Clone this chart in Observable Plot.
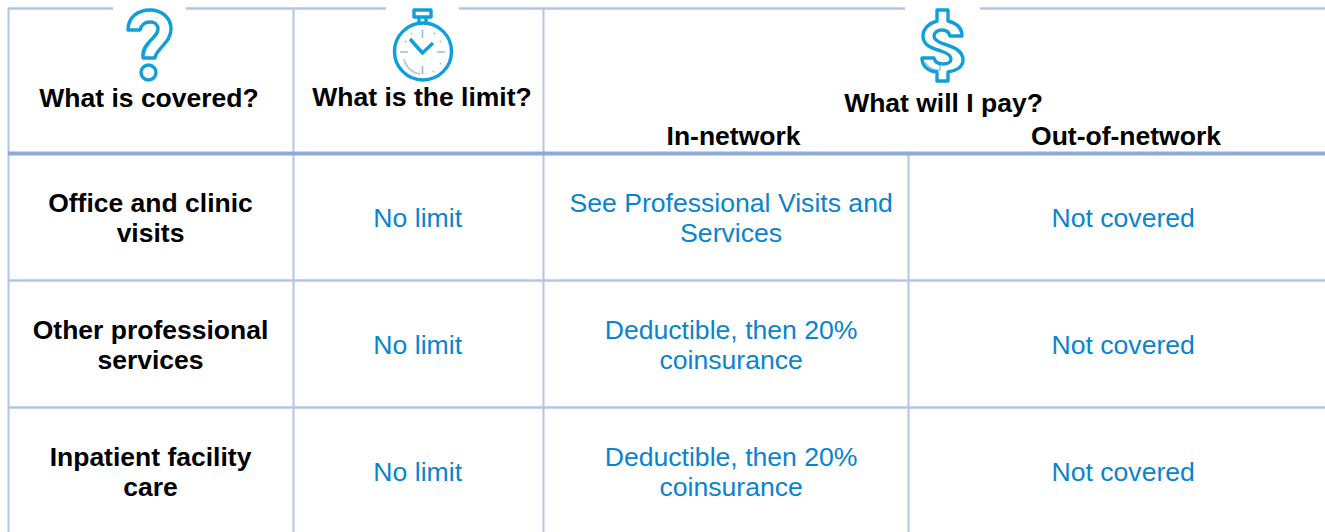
<!DOCTYPE html>
<html><head><meta charset="utf-8">
<script src="https://cdn.jsdelivr.net/npm/d3@7"></script>
<script src="https://cdn.jsdelivr.net/npm/@observablehq/plot@0.6"></script>
<style>html,body{margin:0;padding:0;background:#fff;overflow:hidden}svg{display:block}</style>
</head><body><div id="chart"></div>
<script>
const rowLabels = ["Office and clinic\nvisits", "Other professional\nservices", "Inpatient facility\ncare"];
const limits = ["No limit", "No limit", "No limit"];
const inNetwork = ["See Professional Visits and\nServices", "Deductible, then 20%\ncoinsurance", "Deductible, then 20%\ncoinsurance"];
const outNetwork = ["Not covered", "Not covered", "Not covered"];
const rowCenters = [216.5, 343.5, 470.5];
const colCenters = [150, 417.2, 730.6, 1122.7];
const headers = [
  {t: "What is covered?", x: 148.5, y: 98},
  {t: "What is the limit?", x: 421.5, y: 97},
  {t: "What will I pay?", x: 943, y: 103},
  {t: "In-network", x: 733, y: 136},
  {t: "Out-of-network", x: 1125.5, y: 136}
];
const vLines = [
  {x: 8, y1: 8, y2: 532}, {x: 293, y1: 8, y2: 532}, {x: 543, y1: 8, y2: 532}, {x: 908, y1: 153, y2: 532}
];
const hLines = [
  {y: 8, x1: 8, x2: 113}, {y: 8, x1: 186, x2: 386}, {y: 8, x1: 459, x2: 905}, {y: 8, x1: 980, x2: 1325},
  {y: 280, x1: 8, x2: 1325}, {y: 407, x1: 8, x2: 1325}
];
const ruleColor = "#b4c6e7", headRule = "#8eaadb", blue = "#0a84ce", iconBlue = "#0fa0dc", accent = "#b7cfe0";

const iconOutline = [
  "M128,30C128,17 138,10 150,10C162,10 171,18 171,29C171,38 165,43 160,49C157,53 155,55 155,58L143,58C142,50 146,45 151,40C155,36 158,33 158,29C158,25 155,22 150,22C145,22 141,25 140,30Z",
  "M937,10L948,10L948,21C956,23 962,28 962,36L950,36C949,32 946,30 942,30C937,30 934,33 934,36C934,40 938,42 944,44C954,47 963,51 963,60C963,67 956,71 948,72L948,81L937,81L937,72C928,71 922,66 922,58L934,58C935,62 938,64 943,64C948,64 951,62 951,59C951,55 947,53 941,51C931,48 923,45 923,36C923,28 930,23 937,21Z",
  "M414,10L431,10L431,17L414,17Z",
  "M419,17L419,22M426,17L426,22",
  "M410,39L422.5,53L433,43"
];
const iconThin = [
  "M422.5,30L422.5,38M422.5,74L422.5,66M400,52L408,52M437,52L445,52"
];
const iconAccent = [
  "M404,59C406,68 413,73 420,74",
  "M150,44C147,47 145,50 145,55",
  "M925,62C927,66 931,69 936,70L940,70L940,65"
];
const iconDots = [[148, 72, 7.5], [422.5, 51, 28.5]];
const faint = [[411,33],[434,33],[405,41],[440,41],[405,63],[440,63],[433,71]];

const table = rowLabels.flatMap((r, i) => [
  {t: r, x: colCenters[0], y: rowCenters[i], bold: true},
  {t: limits[i], x: colCenters[1], y: rowCenters[i]},
  {t: inNetwork[i], x: colCenters[2], y: rowCenters[i]},
  {t: outNetwork[i], x: colCenters[3], y: rowCenters[i]}
]);

function icons(index, {x, y}) {
  const g = d3.create("svg:g").attr("fill", "none");
  const tx = (s) => s.replace(/(-?[\d.]+),(-?[\d.]+)/g, (_, a, b) => `${x(+a)},${y(+b)}`);
  g.selectAll(null).data(iconAccent).join("path").attr("d", tx).attr("stroke", accent).attr("stroke-width", 2);
  g.selectAll(null).data(iconOutline).join("path").attr("d", tx).attr("stroke", iconBlue).attr("stroke-width", 3.4).attr("stroke-linejoin", "round");
  g.selectAll(null).data(iconThin).join("path").attr("d", tx).attr("stroke", "#8fbfdc").attr("stroke-width", 1.6);
  return g.node();
}

const font = "Liberation Sans, Arial, sans-serif";
const plot = Plot.plot({
  width: 1325, height: 532, margin: 0,
  style: {background: "#fff", fontFamily: font},
  x: {domain: [0, 1325], range: [0, 1325], axis: null},
  y: {domain: [0, 532], range: [0, 532], axis: null},
  r: {type: "identity"},
  marks: [
    Plot.ruleX(vLines, {x: "x", y1: "y1", y2: "y2", stroke: ruleColor, strokeWidth: 2}),
    Plot.ruleY(hLines, {y: "y", x1: "x1", x2: "x2", stroke: ruleColor, strokeWidth: 2.5}),
    Plot.ruleY([153], {x1: 8, x2: 1325, stroke: headRule, strokeWidth: 4}),
    Plot.dot(iconDots, {x: d => d[0], y: d => d[1], r: d => d[2], stroke: iconBlue, strokeWidth: 3.4, fill: "none"}),
    Plot.dot(faint, {x: d => d[0], y: d => d[1], r: 1, fill: "#a9c4d8"}),
    icons,
    Plot.text(headers, {x: "x", y: "y", text: "t", fontSize: 26.5, fontWeight: "bold", fill: "#000"}),
    Plot.text(table.filter(d => d.bold), {x: "x", y: "y", text: "t", fontSize: 26.5, fontWeight: "bold", fill: "#000", lineHeight: 1.132}),
    Plot.text(table.filter(d => !d.bold), {x: "x", y: "y", text: "t", fontSize: 26.6, fill: blue, lineHeight: 1.128})
  ]
});
document.getElementById("chart").append(plot);
</script></body></html>
